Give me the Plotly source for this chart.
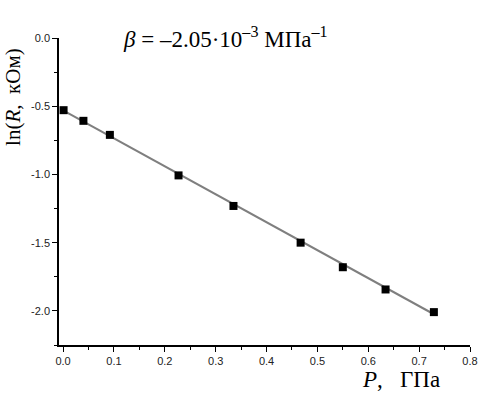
import plotly.graph_objects as go

# data
P_GPa = [0.001, 0.040, 0.092, 0.227, 0.335, 0.467, 0.550, 0.634, 0.729]
lnR = [-0.529, -0.607, -0.710, -1.007, -1.231, -1.500, -1.680, -1.843, -2.009]

beta_per_GPa = -2.05
intercept = -0.53
fit_P = [0.0, 0.73]
fit_lnR = [intercept + beta_per_GPa * p for p in fit_P]

x_tickvals = [0.0, 0.1, 0.2, 0.3, 0.4, 0.5, 0.6, 0.7, 0.8]
x_ticktext = ["0.0", "0.1", "0.2", "0.3", "0.4", "0.5", "0.6", "0.7", "0.8"]
y_tickvals = [0.0, -0.5, -1.0, -1.5, -2.0]
y_ticktext = ["0.0", "-0.5", "-1.0", "-1.5", "-2.0"]

W, H = 488, 394
L, R, T, B = 59, 10, 38, 49
pw, ph = W - L - R, H - T - B

def px(x):
    return (x - L) / pw

def py(y):
    return (H - B - y) / ph

fig = go.Figure()
fig.add_trace(go.Scatter(x=fit_P, y=fit_lnR, mode="lines",
                         line=dict(color="#7f7f7f", width=2), showlegend=False))
fig.add_trace(go.Scatter(x=P_GPa, y=lnR, mode="markers",
                         marker=dict(symbol="square", size=8, color="black"),
                         showlegend=False))

tickfont = dict(family="Liberation Sans, Arial", size=11, color="#222")
serif = "Liberation Serif, Times New Roman"

fig.update_layout(
    width=W, height=H,
    margin=dict(l=L, r=R, t=T, b=B),
    plot_bgcolor="white", paper_bgcolor="white",
    xaxis=dict(range=[-0.008, 0.8], tickmode="array", tickvals=x_tickvals, ticktext=x_ticktext,
               showgrid=False, zeroline=False, showline=True, linecolor="black", linewidth=1.5,
               ticks="outside", ticklen=5, tickwidth=1.2, tickcolor="black", tickfont=tickfont,
               minor=dict(dtick=0.05, ticks="outside", ticklen=3, tickwidth=1.2, tickcolor="black")),
    yaxis=dict(range=[-2.25, 0.0], tickmode="array", tickvals=y_tickvals, ticktext=y_ticktext,
               showgrid=False, zeroline=False, showline=True, linecolor="black", linewidth=1.5,
               ticks="outside", ticklen=5, tickwidth=1.2, tickcolor="black", tickfont=tickfont,
               minor=dict(dtick=0.25, ticks="outside", ticklen=3, tickwidth=1.2, tickcolor="black")),
    annotations=[
        dict(text="<i>β</i> = –2.05·10<sup>–3</sup> МПа<sup>–1</sup>",
             x=px(122), y=py(37), xref="paper", yref="paper",
             xanchor="left", yanchor="middle", showarrow=False,
             font=dict(family=serif, size=23, color="black")),
        dict(text="ln(<i>R</i>,\u00a0\u00a0кОм)",
             x=px(12), y=py(97), xref="paper", yref="paper", textangle=-90,
             xanchor="center", yanchor="middle", showarrow=False,
             font=dict(family=serif, size=21, color="black")),
        dict(text="<i>P</i>,\u00a0\u00a0\u00a0ГПа",
             x=px(408), y=py(379), xref="paper", yref="paper",
             xanchor="center", yanchor="middle", showarrow=False,
             font=dict(family=serif, size=23, color="black")),
    ],
)

fig.write_html("out.html", config={"displayModeBar": False},
               post_script="document.body.style.margin='0';document.body.style.overflow='hidden';")
